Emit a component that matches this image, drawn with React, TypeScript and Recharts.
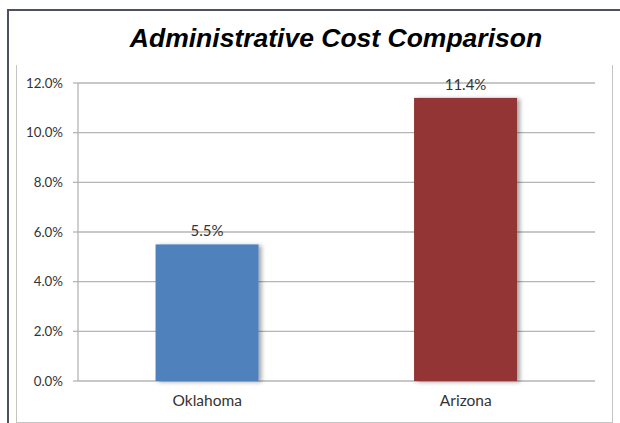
import React from 'react';
import { BarChart, Bar, XAxis, YAxis, CartesianGrid, LabelList } from 'recharts';

const categories = ['Oklahoma', 'Arizona'];
const costValues = [5.5, 11.4];
const barColors = ['#4F81BD', '#943634'];
const yTicks = [0, 2, 4, 6, 8, 10, 12];
const boundaryTicks = [0, 1, 2];

const data = categories.map((name, i) => ({ name, value: costValues[i], color: barColors[i] }));

const FONT = 'Lato, "Noto Sans", sans-serif';

const ShadowBar = (props: any) => {
  const { x, y, width, height, payload, index } = props;
  const id = `shadow-${index}`;
  return (
    <g>
      <defs>
        <filter id={id} x="-20%" y="-20%" width="150%" height="140%">
          <feDropShadow dx="3" dy="1" stdDeviation="2" floodColor="#000" floodOpacity="0.35" />
        </filter>
      </defs>
      <rect x={x} y={y} width={width} height={height} fill={payload.color} filter={`url(#${id})`} />
    </g>
  );
};

export default function App() {
  return (
    <div style={{ position: 'absolute', left: 0, top: 0, width: 620, height: 423, overflow: 'hidden', background: '#fff' }}>
      <div style={{ position: 'absolute', left: 7, top: 9, width: 613, height: 414, borderLeft: '2px solid #4d5062', borderTop: '2px solid #4d5062', boxSizing: 'border-box' }} />
      <div style={{ position: 'absolute', left: 16, top: 65, width: 597, height: 358, borderLeft: '1px solid #c4c4c4', borderRight: '1px solid #c4c4c4', borderBottom: '1px solid #c4c4c4', boxSizing: 'border-box' }} />
      <div style={{ position: 'absolute', left: 0, top: 21, width: 672, textAlign: 'center', fontFamily: '"Liberation Sans", Arial, sans-serif', fontWeight: 'bold', fontStyle: 'italic', fontSize: 26.5, color: '#000', lineHeight: '34px' }}>
        Administrative Cost Comparison
      </div>
      <div style={{ position: 'absolute', left: 0, top: 0 }}>
        <BarChart width={620} height={423} data={data} margin={{ top: 83, right: 25, bottom: 12, left: 18 }} barCategoryGap="30%">
          <CartesianGrid horizontal vertical={false} stroke="#b5b5b5" strokeWidth={1.3} />
          <XAxis
            xAxisId="edge"
            type="number"
            dataKey="value"
            domain={[0, 2]}
            ticks={boundaryTicks}
            allowDataOverflow
            height={0}
            stroke="#b5b5b5"
            strokeWidth={1.3}
            tickSize={6}
            tickFormatter={() => ''}
          />
          <XAxis
            xAxisId="cat"
            dataKey="name"
            height={30}
            axisLine={false}
            tickLine={false}
            tickSize={6}
            tickMargin={8}
            tick={{ fill: '#333333', fontSize: 15.5, fontFamily: FONT }}
          />
          <YAxis
            width={60}
            domain={[0, 12]}
            ticks={yTicks}
            stroke="#b5b5b5"
            strokeWidth={1.3}
            tickSize={5}
            tickMargin={10}
            tickFormatter={(v: number) => `${v.toFixed(1)}%`}
            tick={{ fill: '#333333', fontSize: 13.3, fontFamily: FONT }}
          />
          <Bar xAxisId="cat" dataKey="value" isAnimationActive={false} shape={<ShadowBar />}>
            <LabelList
              dataKey="value"
              position="top"
              offset={8}
              formatter={(v: any) => `${Number(v).toFixed(1)}%`}
              style={{ fill: '#333333', fontSize: 15, fontFamily: FONT }}
            />
          </Bar>
        </BarChart>
      </div>
    </div>
  );
}
